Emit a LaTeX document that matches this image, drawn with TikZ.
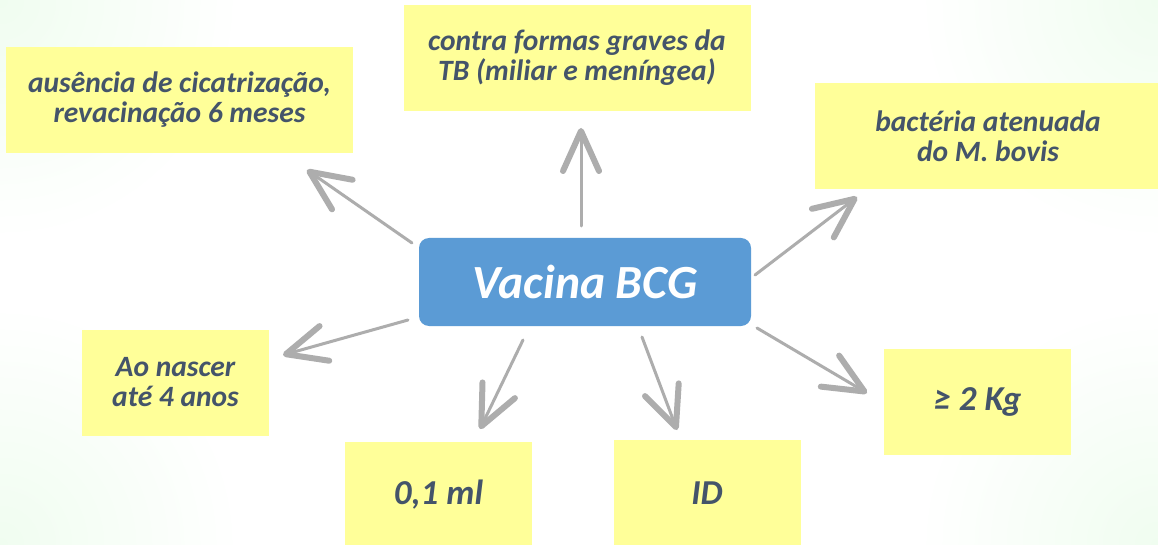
\documentclass[tikz,border=0pt]{standalone}
\usepackage{fontspec}
\setmainfont{Carlito}
\usetikzlibrary{arrows.meta}
\definecolor{yel}{HTML}{FFFF99}
\definecolor{txt}{HTML}{44546A}
\definecolor{blu}{HTML}{5B9BD5}
\definecolor{arr}{HTML}{ADADAD}
\definecolor{bgg}{HTML}{F0FDF0}
\begin{document}
\begin{tikzpicture}[x=1pt,y=-1pt,
 note/.style={fill=yel, text=txt, font=\fontsize{29.5}{30}\selectfont\bfseries\itshape, align=center, inner sep=0pt, minimum height=106pt},
 wide/.style={note, minimum width=347pt},
 narrow/.style={note, minimum width=187pt},
 big/.style={font=\fontsize{35}{40}\selectfont\bfseries\itshape},
 hub/.style={fill=blu, rounded corners=10pt, text=white, font=\fontsize{47.6}{52}\selectfont\bfseries\itshape, minimum width=332pt, minimum height=88pt, inner sep=0pt},
 conn/.style={draw=arr, line width=3pt, line cap=round, -{Straight Barb[length=40pt,width=36pt,line width=6pt,round]}}
]
\useasboundingbox (0,0) rectangle (1158,545);
\clip (0,0) rectangle (1158,545);
\fill[white] (0,0) rectangle (1158,545);
\shade[inner color=bgg, outer color=white] (0,0) circle (240pt);
\shade[inner color=bgg, outer color=white] (1158,0) circle (240pt);
\shade[inner color=bgg, outer color=white] (0,545) circle (240pt);
\shade[inner color=bgg, outer color=white] (1158,545) circle (240pt);

\node[hub] (c) at (585,282) {Vacina BCG};
\node[wide] (n1) at (179.5,100) {ausência de cicatrização,\\revacinação 6 meses};
\node[wide] (n2) at (577,58) {contra formas graves da\\TB (miliar e meníngea)};
\node[wide] (n3) at (988,136) {bactéria atenuada\\do M. bovis};
\node[narrow] (n4) at (175.5,382.5) {Ao nascer\\até 4 anos};
\node[narrow, big] (n5) at (438.5,495) {0,1 ml};
\node[narrow, big] (n6) at (707,493) {ID};
\node[narrow, big] (n7) at (977.5,402) {≥ 2 Kg};

\coordinate (s1) at (412,243); \coordinate (e1) at (307,170);
\coordinate (s2) at (581,226); \coordinate (e2) at (581,128);
\coordinate (s3) at (755,275); \coordinate (e3) at (857,197);
\coordinate (s4) at (408,320); \coordinate (e4) at (283,355);
\coordinate (s5) at (523,340); \coordinate (e5) at (480,429);
\coordinate (s6) at (642,337); \coordinate (e6) at (677,430);
\coordinate (s7) at (757,328); \coordinate (e7) at (867,393);
\foreach \i in {1,...,7} {\draw[conn] (s\i) -- (e\i);}
\end{tikzpicture}
\end{document}
